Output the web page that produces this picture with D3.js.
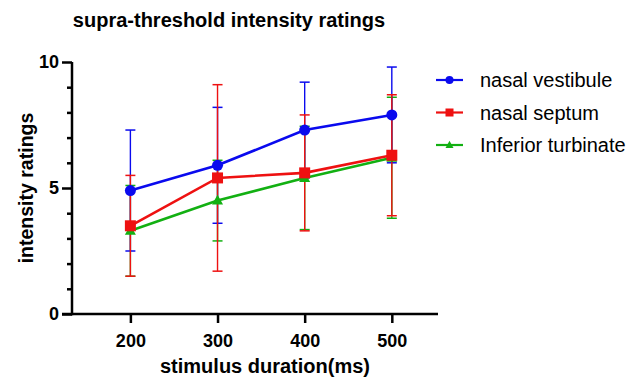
<!DOCTYPE html>
<html><head><meta charset="utf-8">
<script src="https://cdn.jsdelivr.net/npm/d3@7"></script>
<style>body{margin:0;background:#fff}svg{display:block}text{font-family:"Liberation Sans",Arial,sans-serif}</style>
</head><body>
<script>
const durations = [200, 300, 400, 500];
const seriesNames = ["nasal vestibule", "nasal septum", "Inferior turbinate"];
const vestibuleMean = [4.9, 5.9, 7.3, 7.9];
const vestibuleSD = [2.4, 2.3, 1.9, 1.9];
const septumMean = [3.5, 5.4, 5.6, 6.3];
const septumSD = [2.0, 3.7, 2.3, 2.4];
const turbinateMean = [3.3, 4.5, 5.4, 6.2];
const turbinateSD = [1.8, 1.6, 2.05, 2.4];
const yMajorTicks = [0, 5, 10];
const yMinorTicks = [1, 2, 3, 4, 6, 7, 8, 9];
const xDomain = [133, 553];
const yDomain = [0, 10];

const series = [
  {name: seriesNames[0], mean: vestibuleMean, sd: vestibuleSD, color: "#0a0aee", shape: "circle"},
  {name: seriesNames[1], mean: septumMean, sd: septumSD, color: "#ee1111", shape: "square"},
  {name: seriesNames[2], mean: turbinateMean, sd: turbinateSD, color: "#12b012", shape: "triangle"}
];

const W = 633, H = 381;
const svg = d3.select("body").append("svg").attr("width", W).attr("height", H);

const x = d3.scaleLinear().domain(xDomain).range([72, 438]);
const y = d3.scaleLinear().domain(yDomain).range([314, 62]);

// title
svg.append("text").attr("x", 229).attr("y", 27).attr("text-anchor", "middle")
  .attr("font-size", 20).attr("font-weight", "bold").text("supra-threshold intensity ratings");

// y axis
const yAxisMajor = d3.axisLeft(y).tickValues(yMajorTicks).tickSize(10).tickPadding(3).tickFormat(d3.format("d"));
const gy = svg.append("g").attr("transform", "translate(72,0)").call(yAxisMajor);
gy.select(".domain").attr("stroke-width", 2.5).attr("d", `M0,${y(10)}V${y(0)+1.25}`);
gy.selectAll(".tick line").attr("stroke-width", 2.5);
gy.selectAll(".tick text").attr("font-size", 18).attr("font-weight", "bold").attr("font-family", "Liberation Sans, Arial, sans-serif").attr("fill", "#000");
const yAxisMinor = d3.axisLeft(y).tickValues(yMinorTicks).tickSize(5).tickFormat("");
const gym = svg.append("g").attr("transform", "translate(72,0)").call(yAxisMinor);
gym.select(".domain").remove();
gym.selectAll(".tick line").attr("stroke-width", 2.5);

// x axis
const xAxis = d3.axisBottom(x).tickValues(durations).tickSize(9).tickPadding(11).tickFormat(d3.format("d"));
const gx = svg.append("g").attr("transform", "translate(0,314)").call(xAxis);
gx.select(".domain").attr("stroke-width", 2.5).attr("d", `M62,0H438`);
gx.selectAll(".tick line").attr("stroke-width", 2.5);
gx.selectAll(".tick text").attr("font-size", 18).attr("font-weight", "bold").attr("font-family", "Liberation Sans, Arial, sans-serif").attr("fill", "#000");

// axis titles
svg.append("text").attr("x", 265).attr("y", 373).attr("text-anchor", "middle")
  .attr("font-size", 20).attr("font-weight", "bold").text("stimulus duration(ms)");
svg.append("text").attr("transform", "translate(33,188) rotate(-90)").attr("text-anchor", "middle")
  .attr("font-size", 19.5).attr("font-weight", "bold").text("intensity ratings");

function drawMarker(g, shape, cx, cy, color, s) {
  if (shape === "circle") {
    g.append("circle").attr("cx", cx).attr("cy", cy).attr("r", s * 0.5).attr("fill", color);
  } else if (shape === "square") {
    g.append("rect").attr("x", cx - s / 2).attr("y", cy - s / 2).attr("width", s).attr("height", s).attr("fill", color);
  } else {
    const h = s * 0.9;
    g.append("path").attr("d", `M${cx},${cy - h * 0.6}L${cx + s / 2},${cy + h * 0.4}L${cx - s / 2},${cy + h * 0.4}Z`).attr("fill", color);
  }
}

const drawOrder = [2, 0, 1];
const plot = svg.append("g");
// error bars
drawOrder.forEach(i => {
  const s = series[i];
  const g = plot.append("g");
  durations.forEach((d, k) => {
    const lo = s.mean[k] - s.sd[k], hi = s.mean[k] + s.sd[k];
    g.append("line").attr("x1", x(d)).attr("x2", x(d)).attr("y1", y(lo)).attr("y2", y(hi))
      .attr("stroke", s.color).attr("stroke-width", 1.4);
    [lo, hi].forEach(v => {
      g.append("line").attr("x1", x(d) - 5).attr("x2", x(d) + 5).attr("y1", y(v)).attr("y2", y(v))
        .attr("stroke", s.color).attr("stroke-width", 1.5);
    });
  });
});
// lines and markers
drawOrder.forEach(i => {
  const s = series[i];
  const g = plot.append("g");
  const line = d3.line().x((d, k) => x(durations[k])).y(d => y(d));
  g.append("path").attr("d", line(s.mean)).attr("fill", "none").attr("stroke", s.color).attr("stroke-width", 2.6);
  s.mean.forEach((v, k) => drawMarker(g, s.shape, x(durations[k]), y(v), s.color, 11));
});

// legend
const legend = svg.append("g");
series.forEach((s, i) => {
  const ly = 80 + i * 32.5;
  legend.append("line").attr("x1", 436).attr("x2", 463).attr("y1", ly).attr("y2", ly)
    .attr("stroke", s.color).attr("stroke-width", 2.2);
  drawMarker(legend, s.shape, 449.5, ly, s.color, 8);
  legend.append("text").attr("x", 480).attr("y", ly).attr("dy", "0.35em")
    .attr("font-size", 20).attr("fill", "#000").text(s.name);
});
</script>
</body></html>
